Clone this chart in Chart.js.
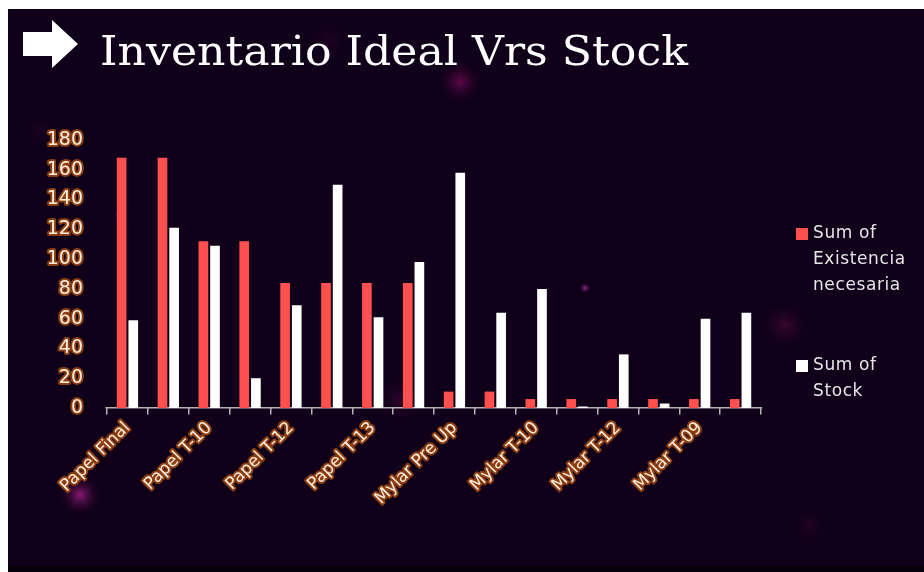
<!DOCTYPE html>
<html>
<head>
<meta charset="utf-8">
<script src="https://cdn.jsdelivr.net/npm/chart.js@4/dist/chart.umd.min.js"></script>
<style>
  html, body { margin: 0; padding: 0; background: #ffffff; }
  #wrap { width: 924px; height: 572px; position: relative; }
</style>
</head>
<body>
<div id="wrap"><canvas id="c" width="924" height="572"></canvas></div>
<script>
// Products (every other label is printed on the axis)
const categories = [
  'Papel Final', 'Papel Pre Up', 'Papel T-10', 'Papel T-11',
  'Papel T-12', 'Papel T-09', 'Papel T-13', 'Papel T-14',
  'Mylar Pre Up', 'Mylar Final', 'Mylar T-10', 'Mylar T-11',
  'Mylar T-12', 'Mylar T-13', 'Mylar T-09', 'Mylar T-14'
];
const existenciaNecesaria = [168, 168, 112, 112, 84, 84, 84, 84, 11, 11, 6, 6, 6, 6, 6, 6];
const stock = [59, 121, 109, 20, 69, 150, 61, 98, 158, 64, 80, 1, 36, 3, 60, 64];
const seriesNames = [['Sum of', 'Existencia', 'necesaria'], ['Sum of', 'Stock']];
const yTicks = [0, 20, 40, 60, 80, 100, 120, 140, 160, 180];
const chartTitle = 'Inventario Ideal Vrs Stock';

const BG = '#10001a';
const RED = '#ff5050';
const TICK_FILL = '#fdeedd';
const TICK_GLOW = '#8c3e12';

// dark backdrop with a few soft light spots
const backdrop = {
  id: 'backdrop',
  beforeDraw(chart) {
    const ctx = chart.ctx;
    ctx.save();
    ctx.fillStyle = '#ffffff';
    ctx.fillRect(0, 0, 924, 572);
    ctx.fillStyle = BG;
    ctx.fillRect(8, 9, 916, 557);
    ctx.fillStyle = '#06000a';
    ctx.fillRect(8, 566, 916, 6);
    ctx.beginPath();
    ctx.rect(8, 9, 916, 557);
    ctx.clip();
    const spots = [
      [460, 82, 24, 'rgba(120,10,90,0.75)'],
      [80, 495, 22, 'rgba(160,30,130,0.85)'],
      [585, 288, 6, 'rgba(170,50,150,0.9)'],
      [785, 325, 26, 'rgba(80,10,60,0.6)'],
      [120, 215, 7, 'rgba(140,30,120,0.7)'],
      [400, 400, 26, 'rgba(70,10,60,0.5)'],
      [810, 525, 20, 'rgba(50,5,45,0.5)'],
      [330, 40, 24, 'rgba(45,5,40,0.45)'],
      [40, 130, 18, 'rgba(45,5,40,0.45)']
    ];
    for (const [x, y, r, col] of spots) {
      const g = ctx.createRadialGradient(x, y, 0, x, y, r);
      g.addColorStop(0, col);
      g.addColorStop(1, 'rgba(16,0,26,0)');
      ctx.fillStyle = g;
      ctx.fillRect(x - r, y - r, 2 * r, 2 * r);
    }
    ctx.restore();
    // rounded outline for the glowing tick labels
    ctx.lineJoin = 'round';
    ctx.lineCap = 'round';
  }
};

// arrow glyph and heading
const heading = {
  id: 'heading',
  afterDraw(chart) {
    const ctx = chart.ctx;
    ctx.save();
    ctx.fillStyle = '#ffffff';
    ctx.beginPath();
    ctx.moveTo(23, 32);
    ctx.lineTo(52, 32);
    ctx.lineTo(52, 20);
    ctx.lineTo(78, 44);
    ctx.lineTo(52, 68);
    ctx.lineTo(52, 56);
    ctx.lineTo(23, 56);
    ctx.closePath();
    ctx.fill();
    ctx.font = '41px "DejaVu Serif", "Liberation Serif", serif';
    ctx.letterSpacing = '0px';
    ctx.textBaseline = 'alphabetic';
    ctx.textAlign = 'left';
    const w = ctx.measureText(chartTitle).width;
    // stretch the heading across its band
    ctx.translate(100, 65);
    ctx.scale(588 / w, 1);
    ctx.fillText(chartTitle, 0, 0);
    ctx.restore();
  }
};

// legend on the right with wrapped series names
const sideLegend = {
  id: 'sideLegend',
  afterDraw(chart) {
    const ctx = chart.ctx;
    ctx.save();
    ctx.font = '17px "DejaVu Sans", sans-serif';
    ctx.letterSpacing = '0.6px';
    ctx.textBaseline = 'middle';
    const tops = [234, 366];
    chart.data.datasets.forEach((ds, i) => {
      const y0 = tops[i];
      ctx.fillStyle = ds.backgroundColor;
      ctx.fillRect(796, y0 - 6, 12, 12);
      ctx.fillStyle = '#e6e6e6';
      seriesNames[i].forEach((line, k) => {
        ctx.fillText(line, 813, y0 + k * 26);
      });
    });
    ctx.restore();
  }
};

new Chart(document.getElementById('c'), {
  type: 'bar',
  data: {
    labels: categories,
    datasets: [
      { label: seriesNames[0].join(' '), data: existenciaNecesaria, backgroundColor: RED,
        borderWidth: 0, categoryPercentage: 0.57, barPercentage: 0.83 },
      { label: seriesNames[1].join(' '), data: stock, backgroundColor: '#ffffff',
        borderWidth: 0, categoryPercentage: 0.57, barPercentage: 0.83 }
    ]
  },
  options: {
    responsive: false,
    animation: false,
    events: [],
    layout: { padding: { left: 8, right: 163, top: 140, bottom: 0 } },
    plugins: {
      legend: { display: false },
      title: { display: false },
      tooltip: { enabled: false }
    },
    scales: {
      x: {
        afterFit(scale) { scale.height = 164; },
        grid: { display: true, drawOnChartArea: false, drawTicks: true, tickLength: 6,
                color: '#b4b4b4', lineWidth: 1.5, offset: true },
        border: { display: true, color: '#b4b4b4', width: 1.5 },
        ticks: {
          autoSkip: false, maxRotation: 45, minRotation: 45, padding: 4,
          color: TICK_FILL, textStrokeColor: TICK_GLOW, textStrokeWidth: 4,
          font: { family: '"DejaVu Sans", sans-serif', size: 17 },
          callback(value, index) { return index % 2 === 0 ? categories[index] : ''; }
        }
      },
      y: {
        min: 0, max: 180,
        afterFit(scale) { scale.width = 99; },
        afterBuildTicks(scale) { scale.ticks = yTicks.map(v => ({ value: v })); },
        grid: { display: false, drawTicks: false },
        border: { display: false },
        ticks: {
          padding: 24,
          color: TICK_FILL, textStrokeColor: TICK_GLOW, textStrokeWidth: 4,
          font: { family: '"DejaVu Sans", sans-serif', size: 19 }
        }
      }
    }
  },
  plugins: [backdrop, heading, sideLegend]
});
</script>
</body>
</html>
